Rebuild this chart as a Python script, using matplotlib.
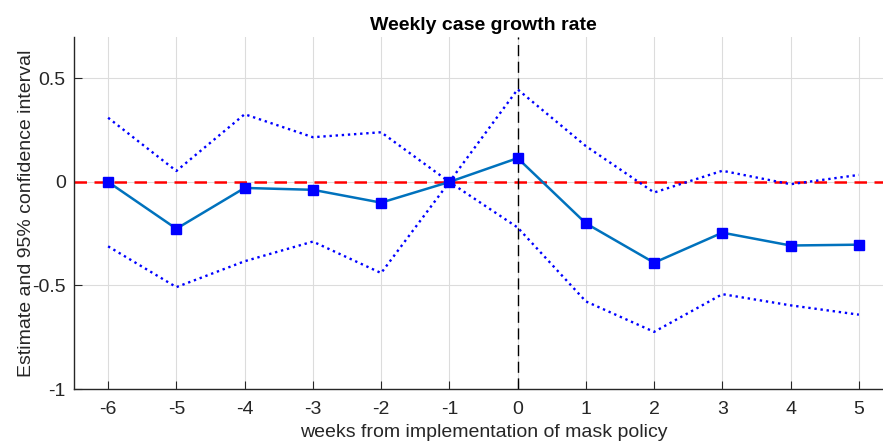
import matplotlib
matplotlib.use("Agg")
import matplotlib.pyplot as plt

weeks = [-6, -5, -4, -3, -2, -1, 0, 1, 2, 3, 4, 5]
estimate = [0.0, -0.226, -0.029, -0.038, -0.10, 0.0, 0.115, -0.20, -0.39, -0.245, -0.307, -0.303]
upper_ci = [0.31, 0.053, 0.327, 0.216, 0.24, 0.0, 0.447, 0.173, -0.051, 0.054, -0.011, 0.034]
lower_ci = [-0.311, -0.508, -0.383, -0.288, -0.44, 0.0, -0.22, -0.577, -0.724, -0.542, -0.596, -0.641]
xtick_labels = [str(w) for w in weeks]
ytick_vals = [-1, -0.5, 0, 0.5]
ytick_labels = ["-1", "-0.5", "0", "0.5"]

plt.rcParams['font.family'] = ['Liberation Sans', 'DejaVu Sans']

fig = plt.figure(figsize=(8.83, 4.42), dpi=100)
ax = fig.add_axes([74/883, 53/442, 819/883, 352/442])

ax.set_xlim(-6.5, 5.5)
ax.set_ylim(-1, 0.7)

ax.grid(True, color='#dcdcdc', linewidth=0.8)
ax.set_axisbelow(True)

ax.axhline(0, color='red', linestyle=(0, (5, 3)), linewidth=1.8, zorder=2)
ax.axvline(0, color='black', linestyle=(0, (8, 4)), linewidth=1.0, zorder=2)

ax.plot(weeks, upper_ci, color='blue', linestyle=(0, (1, 1.6)), linewidth=1.7, zorder=3)
ax.plot(weeks, lower_ci, color='blue', linestyle=(0, (1, 1.6)), linewidth=1.7, zorder=3)
ax.plot(weeks, estimate, color='#0072BD', linewidth=1.8, marker='s', markersize=7,
        markerfacecolor='blue', markeredgecolor='blue', zorder=4)

ax.set_xticks(weeks)
ax.set_xticklabels(xtick_labels)
ax.set_yticks(ytick_vals)
ax.set_yticklabels(ytick_labels)

for s in ['top', 'right']:
    ax.spines[s].set_visible(False)
for s in ['left', 'bottom']:
    ax.spines[s].set_color('#262626')
    ax.spines[s].set_linewidth(1.0)

ax.tick_params(direction='in', length=6, width=0.8, colors='#262626', labelsize=14)
ax.tick_params(axis='x', pad=9)
ax.tick_params(axis='y', pad=6)

ax.set_title('Weekly case growth rate', fontsize=14, fontweight='bold', pad=5)
ax.set_xlabel('weeks from implementation of mask policy', fontsize=14, color='#262626', labelpad=4)
ax.set_ylabel('Estimate and 95% confidence interval', fontsize=14, color='#262626', labelpad=-2)

fig.savefig('out.png', dpi=100)
